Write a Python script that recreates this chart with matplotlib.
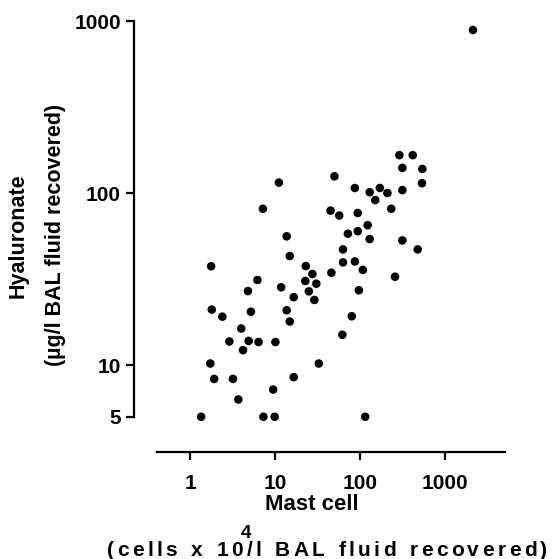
import numpy as np
import matplotlib
matplotlib.use("Agg")
from matplotlib import pyplot as plt

plt.rcParams['font.family'] = ['Liberation Sans', 'DejaVu Sans']
plt.rcParams['font.weight'] = 'bold'

# Mast cell count (cells x 10^4 / l BAL fluid) vs hyaluronate (ug / l BAL fluid)
mast_cell = [290, 417, 315, 541, 536, 50, 11.1, 87, 130, 171, 210, 315, 151,
             7.2, 45, 57, 94, 233, 123, 94, 72, 130, 315, 477, 13.7, 14.9,
             63, 63, 87, 108, 46, 258, 1.77, 23, 27.5, 6.2, 22.7, 30.6, 4.8,
             11.8, 25, 16.6, 29, 97, 1.8, 2.4, 5.2, 13.7, 14.9, 80, 4.0, 2.9,
             4.9, 6.4, 10.1, 4.2, 62, 1.73, 1.92, 3.2, 16.6, 32.7, 9.5, 3.7,
             1.35, 7.3, 9.9, 115, 2130]
hyaluronate = [166, 166, 140, 138, 114, 125, 115, 107, 101, 107, 100, 104, 91,
               81, 79, 74, 76.5, 81, 65, 60, 58, 54, 53, 47, 56, 43,
               47, 39.5, 40, 35.7, 34.4, 32.6, 37.5, 37.6, 33.8, 31.2, 30.8, 29.7, 26.9,
               28.3, 26.8, 24.8, 23.9, 27.2, 21, 19.1, 20.4, 20.8, 17.9, 19.2, 16.3, 13.7,
               13.8, 13.6, 13.6, 12.2, 15, 10.2, 8.3, 8.3, 8.5, 10.2, 7.2, 6.3,
               5, 5, 5, 5, 887]

yticks = [5, 10, 100, 1000]
xticks = [1, 10, 100, 1000]

W, H = 552, 559
fig = plt.figure(figsize=(W / 100, H / 100), dpi=100)
ax = fig.add_axes([134 / W, 1 - 452 / H, (505 - 134) / W, (452 - 15) / H])

ax.scatter(mast_cell, hyaluronate, s=38, color='black', edgecolors='none', zorder=3)

ax.set_xscale('log')
ax.set_yscale('log')
ax.set_xlim(0.219, 5080)
ax.set_ylim(3.12, 1084)

ax.spines['top'].set_visible(False)
ax.spines['right'].set_visible(False)
ax.spines['left'].set_bounds(5, 1000)
ax.spines['bottom'].set_bounds(0.41, 5080)
for s in ('left', 'bottom'):
    ax.spines[s].set_linewidth(1.6)

ax.set_yticks(yticks)
ax.set_yticklabels([str(t) for t in yticks])
ax.set_xticks(xticks)
ax.set_xticklabels([str(t) for t in xticks])
ax.minorticks_off()
ax.tick_params(axis='y', length=6, width=1.6, pad=3.5, labelsize=15)
ax.tick_params(axis='x', length=6, width=1.6, pad=10, labelsize=15)

# axis titles
fig.text(312 / W, 1 - 505 / H, 'Mast cell', ha='center', va='center', fontsize=16)
fig.text(18.5 / W, 1 - 236 / H, 'Hyaluronate', ha='center', va='center',
         rotation=90, fontsize=15.5)
fig.text(56 / W, 1 - 235 / H, '(\u00b5g/l BAL fluid recovered)', ha='center',
         va='center', rotation=90, fontsize=15.5)

# second x label line is letter-spaced: place it char by char
line2 = '(cells x 10/l BAL fluid recovered)'
x0, x1, yl = 107, 547, 550
renderer = fig.canvas.get_renderer()
chars = []
widths = []
for c in line2:
    t = fig.text(0, 0, c, fontsize=15, va='center', ha='left')
    widths.append(t.get_window_extent(renderer).width if c != ' ' else 7.0)
    chars.append(t)
track = ((x1 - x0) - sum(widths)) / (len(line2) - 1)
xp = x0
for t, w in zip(chars, widths):
    t.set_position((xp / W, 1 - yl / H))
    xp += w + track
fig.text(246 / W, 1 - 533 / H, '4', ha='center', va='center', fontsize=13.5)

fig.savefig('out.png', dpi=100)
